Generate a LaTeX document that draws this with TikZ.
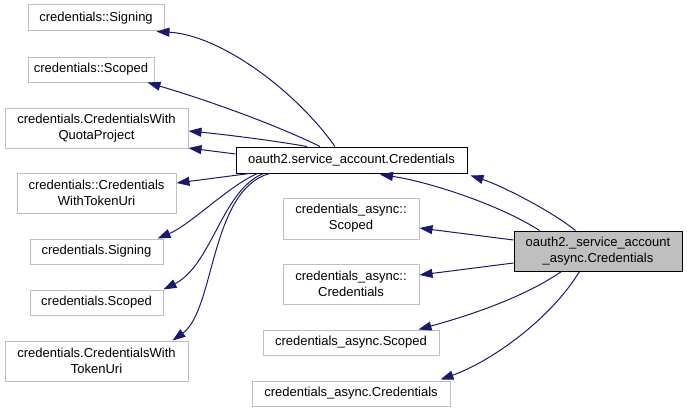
\documentclass[tikz,border=0pt]{standalone}
\usepackage{fontspec}
\setmainfont{Liberation Sans}
\usetikzlibrary{arrows.meta}
\definecolor{edgeblue}{HTML}{191970}
\definecolor{boxgray}{HTML}{BFBFBF}
\tikzset{
  cls/.style={draw=boxgray, line width=1pt, fill=white, inner sep=0pt, align=center,
    font=\fontsize{13}{16}\selectfont, text=black},
  mainbox/.style={cls, draw=black},
  focusbox/.style={cls, draw=black, fill=boxgray},
  inh/.style={draw=edgeblue, line width=1pt,
    -{Triangle[length=13pt,width=9pt]}, edgeblue},
}
\begin{document}
\begin{tikzpicture}[x=1pt,y=-1pt]
\useasboundingbox (0,0) rectangle (687,412);
% left column
\node[cls, minimum width=136, minimum height=26] (sig1) at (96,18) {credentials::Signing};
\node[cls, minimum width=126, minimum height=25] (scp1) at (91,69.5) {credentials::Scoped};
\node[cls, minimum width=183, minimum height=40] (cwqp) at (96.5,128) {credentials.CredentialsWith\\QuotaProject};
\node[cls, minimum width=159, minimum height=40] (cwtu1) at (96.5,193) {credentials::Credentials\\WithTokenUri};
\node[cls, minimum width=133, minimum height=25] (sig2) at (96.5,251.5) {credentials.Signing};
\node[cls, minimum width=133, minimum height=25] (scp2) at (96.5,302.5) {credentials.Scoped};
\node[cls, minimum width=183, minimum height=40] (cwtu2) at (96.5,361) {credentials.CredentialsWith\\TokenUri};
% middle column
\node[mainbox, minimum width=231, minimum height=26] (sa) at (351.5,160) {oauth2.service\_account.Credentials};
\node[cls, minimum width=136, minimum height=41] (as1) at (351,218.5) {credentials\_async::\\Scoped};
\node[cls, minimum width=136, minimum height=40] (ac1) at (351,284) {credentials\_async::\\Credentials};
\node[cls, minimum width=176, minimum height=25] (as2) at (351,342.5) {credentials\_async.Scoped};
\node[cls, minimum width=198, minimum height=25] (ac2) at (351,393.5) {credentials\_async.Credentials};
% right
\node[focusbox, minimum width=168, minimum height=40] (async) at (598,251) {oauth2.\_service\_account\\\_async.Credentials};
% edges from sa
\draw[inh] ([xshift=-16.5]sa.north) .. controls (295,90) and (220,35) .. ([xshift=-8]sig1.south east);
\draw[inh] ([xshift=-31.5]sa.north) .. controls (270,122) and (200,98) .. ([xshift=-7]scp1.south east);
\draw[inh] ([xshift=-44.5]sa.north) .. controls (270,140) and (220,134) .. ([yshift=-3]cwqp.east);
\draw[inh] ([yshift=6]sa.west) -- ([yshift=-20]cwqp.east);
\draw[inh] ([xshift=14]sa.south west) -- ([yshift=10]cwtu1.east);
\draw[inh] ([xshift=22]sa.south west) .. controls (230,185) and (190,225) .. ([xshift=-6]sig2.north east);
\draw[inh] ([xshift=28]sa.south west) .. controls (222,190) and (212,265) .. (scp2.north east);
\draw[inh] ([xshift=34]sa.south west) .. controls (210,190) and (215,310) .. ([xshift=-16]cwtu2.north east);
% edges from async
\draw[inh] ([xshift=26]async.north west) .. controls (500,205) and (430,182) .. ([xshift=28.5,yshift=-1]sa.south);
\draw[inh] ([xshift=62]async.north west) .. controls (550,210) and (500,185) .. ([xshift=3,yshift=-2]sa.south east);
\draw[inh] ([yshift=11]async.west) -- ([yshift=-9.5]as1.east);
\draw[inh] ([yshift=-12]async.west) -- ([yshift=9]ac1.east);
\draw[inh] ([xshift=48]async.south west) .. controls (520,300) and (460,318) .. ([xshift=-21]as2.north east);
\draw[inh] ([xshift=66]async.south west) .. controls (550,320) and (490,362) .. ([xshift=-10,yshift=1]ac2.north east);
\end{tikzpicture}
\end{document}
